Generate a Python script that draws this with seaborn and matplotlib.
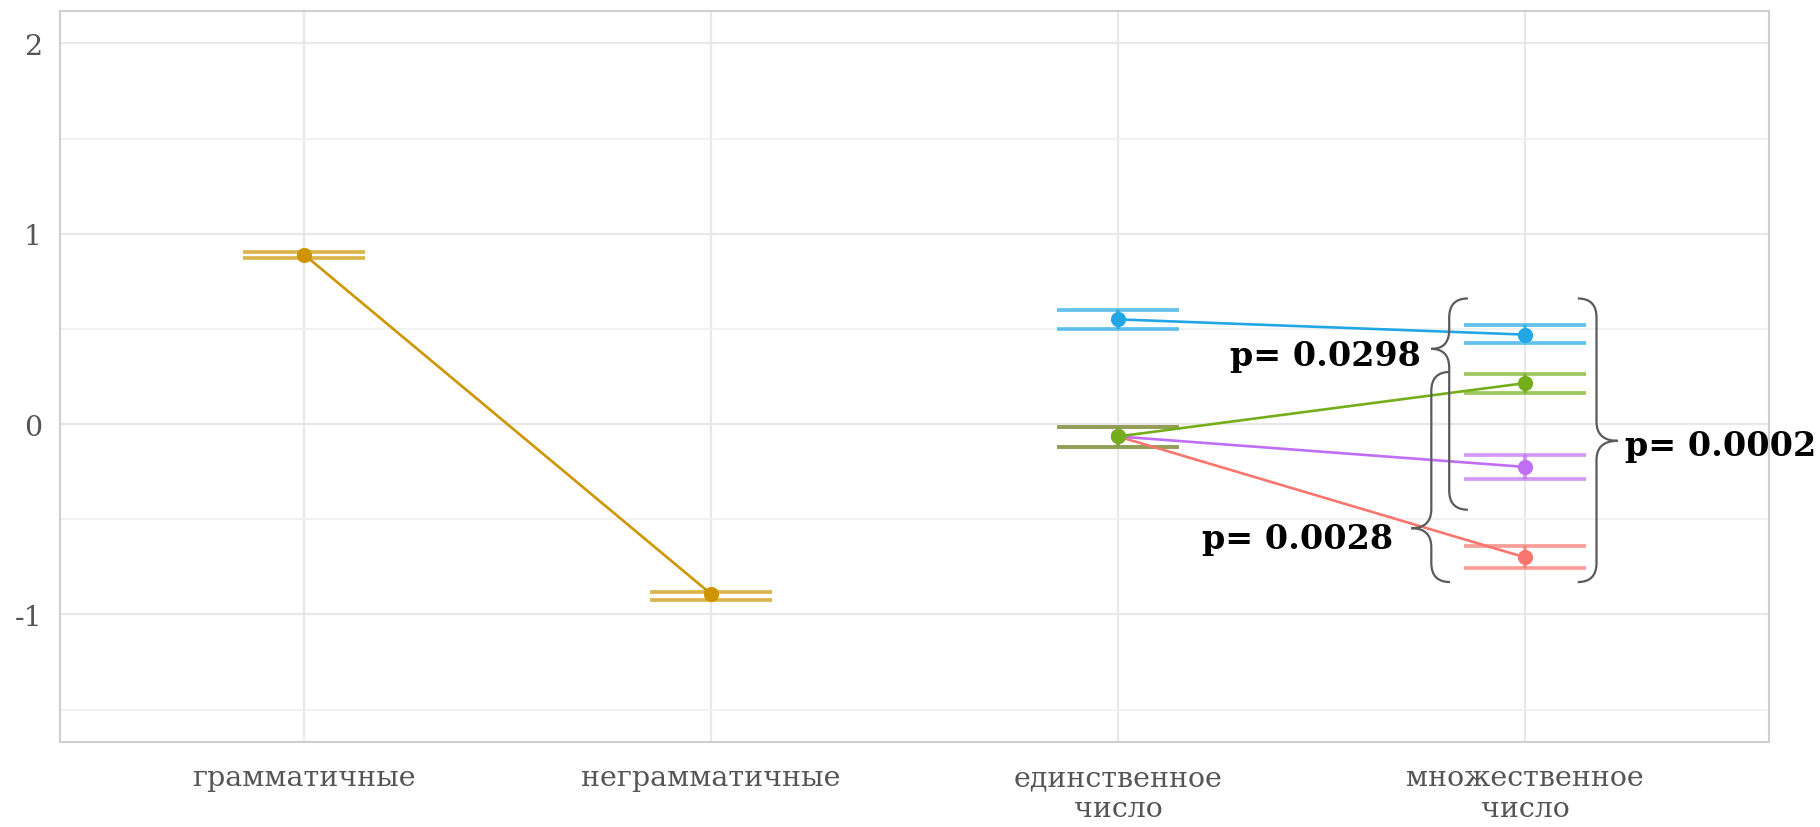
import numpy as np
import pandas as pd
import seaborn as sns
import matplotlib.pyplot as plt
from matplotlib.path import Path
from matplotlib.patches import PathPatch

#%%
# Data
conds = ['грамматичные', 'неграмматичные', 'единственное\nчисло', 'множественное\nчисло']

gram_conds = [conds[0], conds[1]]
gram_mean = [0.89, -0.893]
gram_lo = [0.873, -0.925]
gram_hi = [0.905, -0.880]

num_conds = [conds[2], conds[3]]
blue_mean = [0.55, 0.47]
blue_lo = [0.50, 0.425]
blue_hi = [0.60, 0.52]
green_mean = [-0.065, 0.215]
green_lo = [-0.12, 0.165]
green_hi = [-0.015, 0.265]
purple_mean = [-0.065, -0.225]
purple_lo = [-0.12, -0.29]
purple_hi = [-0.015, -0.16]
red_mean = [-0.065, -0.70]
red_lo = [-0.12, -0.755]
red_hi = [-0.015, -0.64]

series_colors = {'gram': '#CD9600', 'blue': '#22A7E6', 'red': '#F8766D',
                 'purple': '#C06EF5', 'green': '#74AE1A'}

rows = []
for c, m, lo, hi in zip(gram_conds, gram_mean, gram_lo, gram_hi):
    rows.append(dict(cond=c, series='gram', mean=m, lo=lo, hi=hi))
for name, means, los, his in [('blue', blue_mean, blue_lo, blue_hi),
                              ('red', red_mean, red_lo, red_hi),
                              ('purple', purple_mean, purple_lo, purple_hi),
                              ('green', green_mean, green_lo, green_hi)]:
    for c, m, lo, hi in zip(num_conds, means, los, his):
        rows.append(dict(cond=c, series=name, mean=m, lo=lo, hi=hi))
df = pd.DataFrame(rows)

# p-value annotations: (brace top, brace bottom, tip y, stem x, end x, tip x), label
braces = [
    ((0.66, -0.45, 0.395, 2.814, 2.860, 2.770), 'p= 0.0298', (2.745, 0.36), 'right'),
    ((0.274, -0.83, -0.547, 2.770, 2.816, 2.721), 'p= 0.0028', (2.676, -0.60), 'right'),
    ((0.66, -0.83, -0.088, 3.176, 3.130, 3.228), 'p= 0.0002', (3.245, -0.11), 'left'),
]

#%%
sns.set_theme(style='whitegrid')
plt.rcParams['font.family'] = ['DejaVu Serif']

fig = plt.figure(figsize=(18.2, 8.28), dpi=100)
ax = fig.add_axes([0.033, 0.1027, 0.939, 0.8828])

sns.pointplot(data=df, x='cond', y='mean', hue='series', order=conds,
              hue_order=['gram', 'blue', 'red', 'purple', 'green'],
              palette=series_colors, errorbar=None, markers='o',
              markersize=9.5, linewidth=1.9, legend=False, ax=ax)

# error bars (ggplot-style, width 0.3)
for _, r in df.iterrows():
    xi = conds.index(r['cond'])
    col = series_colors[r['series']]
    ax.hlines([r['lo'], r['hi']], xi - 0.15, xi + 0.15, colors=col,
              linewidth=2.7, alpha=0.7, zorder=1)
    ax.vlines(xi, r['lo'], r['hi'], colors=col, linewidth=2.7, alpha=0.7, zorder=1)

# curly braces + p-values
def brace(ax, y0, y1, yt, xs, xe, xt, r=0.1):
    verts = [(xe, y0), (xs, y0), (xs, y0 - r),
             (xs, yt + r), (xs, yt), (xt, yt),
             (xs, yt), (xs, yt - r),
             (xs, y1 + r), (xs, y1), (xe, y1)]
    codes = [Path.MOVETO, Path.CURVE3, Path.CURVE3,
             Path.LINETO, Path.CURVE3, Path.CURVE3,
             Path.CURVE3, Path.CURVE3,
             Path.LINETO, Path.CURVE3, Path.CURVE3]
    ax.add_patch(PathPatch(Path(verts, codes), fill=False, edgecolor='#5A5A5A',
                           linewidth=1.6, clip_on=False, zorder=5))

for (y0, y1, yt, xs, xe, xt), label, (tx, ty), ha in braces:
    brace(ax, y0, y1, yt, xs, xe, xt)
    ax.text(tx, ty, label, ha=ha, va='center', fontsize=24, fontweight='bold',
            color='black', clip_on=False, zorder=6)

ax.set_xlim(-0.6, 3.6)
ax.set_ylim(-1.67, 2.17)
ax.set_yticks([-1, 0, 1, 2])
ax.set_yticklabels(['-1', '0', '1', '2'])
ax.set_yticks([-1.5, -0.5, 0.5, 1.5], minor=True)
ax.set_xlabel('')
ax.set_ylabel('')

ax.grid(True, which='major', color='#E8E8E8', linewidth=1.6)
ax.grid(True, which='minor', axis='y', color='#F0F0F0', linewidth=1.3)
ax.set_axisbelow(True)
for s in ax.spines.values():
    s.set_color('#CFCFCF')
    s.set_linewidth(1.5)

ax.tick_params(axis='both', which='major', length=7, width=1.2, color='#BDBDBD',
               labelsize=20.5, labelcolor='#555555', pad=6)
ax.tick_params(axis='both', which='minor', length=0)
ax.tick_params(axis='x', pad=9)
for lab in ax.get_xticklabels():
    lab.set_linespacing(1.2)

fig.savefig('out.png', dpi=100)
